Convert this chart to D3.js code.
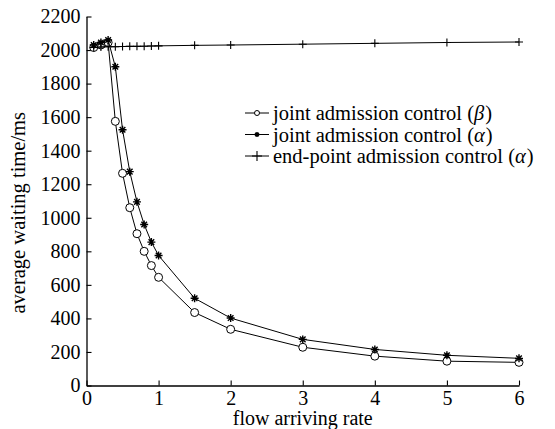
<!DOCTYPE html>
<html>
<head>
<meta charset="utf-8">
<script src="https://cdn.jsdelivr.net/npm/d3@7/dist/d3.min.js"></script>
<style>
  html, body { margin: 0; padding: 0; background: #fff; }
  svg text { font-family: "Liberation Serif", "DejaVu Serif", serif; fill: #000; }
</style>
</head>
<body>
<div id="chart"></div>
<script>
// flow arriving rate
const rates = [0.1, 0.2, 0.3, 0.4, 0.5, 0.6, 0.7, 0.8, 0.9, 1.0, 1.5, 2, 3, 4, 5, 6];

// average waiting time (ms)
const jointBeta  = [2015, 2030, 2045, 1575, 1265, 1060, 905, 800, 715, 645, 435, 335, 228, 175, 145, 138];
const jointAlpha = [2030, 2045, 2060, 1900, 1525, 1275, 1095, 960, 855, 775, 520, 402, 275, 215, 180, 162];
const endPoint   = [2015, 2018, 2020, 2020, 2021, 2022, 2022, 2023, 2024, 2025, 2028, 2030, 2035, 2040, 2045, 2048];

const xTicks = [0, 1, 2, 3, 4, 5, 6];
const yTicks = [0, 200, 400, 600, 800, 1000, 1200, 1400, 1600, 1800, 2000, 2200];

const series = [
  { name: 'joint admission control (', greek: 'β', values: jointBeta, marker: 'circle' },
  { name: 'joint admission control (', greek: 'α', values: jointAlpha, marker: 'star' },
  { name: 'end-point admission control (', greek: 'α', values: endPoint, marker: 'plus' },
];

const width = 555;
const height = 429;
const margin = { top: 16.5, right: 36, bottom: 43.5, left: 86.5 };
const serif = '"Liberation Serif", "DejaVu Serif", serif';

const svg = d3.select('#chart').append('svg')
  .attr('width', width)
  .attr('height', height)
  .attr('font-family', serif);

const x = d3.scaleLinear().domain([0, 6]).range([margin.left, width - margin.right]);
const y = d3.scaleLinear().domain([0, 2200]).range([height - margin.bottom, margin.top]);

// axes, ticks pointing inward
const xAxis = svg.append('g')
  .attr('transform', `translate(0, ${y(0)})`)
  .call(d3.axisBottom(x).tickValues(xTicks).tickFormat(d3.format('d'))
    .tickSizeInner(-5).tickSizeOuter(0).tickPadding(5));
const yAxis = svg.append('g')
  .attr('transform', `translate(${x(0)}, 0)`)
  .call(d3.axisLeft(y).tickValues(yTicks).tickFormat(d3.format('d'))
    .tickSizeInner(-5).tickSizeOuter(0).tickPadding(6));

[xAxis, yAxis].forEach(g => {
  g.attr('font-family', serif).attr('font-size', 20);
  g.select('.domain').attr('stroke', '#000').attr('stroke-width', 1.3);
  g.selectAll('.tick line').attr('stroke', '#000').attr('stroke-width', 1.1);
  g.selectAll('.tick text').attr('fill', '#000');
});
xAxis.selectAll('.tick text').attr('dy', '0.71em');

// axis titles
svg.append('text')
  .attr('x', x(3))
  .attr('y', 425)
  .attr('text-anchor', 'middle')
  .attr('font-size', 20)
  .text('flow arriving rate');

svg.append('text')
  .attr('transform', `translate(25, ${y(1030)}) rotate(-90)`)
  .attr('text-anchor', 'middle')
  .attr('font-size', 20.5)
  .text('average waiting time/ms');

const line = d3.line().x((d, i) => x(rates[i])).y(d => y(d));

function drawMarker(g, type, r) {
  if (type === 'circle') {
    g.append('circle').attr('r', r).attr('fill', '#fff').attr('stroke', '#000').attr('stroke-width', 1);
  } else if (type === 'star') {
    const p = `M${-r},0H${r}M0,${-r}V${r}M${-r * 0.7},${-r * 0.7}L${r * 0.7},${r * 0.7}M${-r * 0.7},${r * 0.7}L${r * 0.7},${-r * 0.7}`;
    g.append('path').attr('d', p).attr('stroke', '#000').attr('stroke-width', 1.4).attr('fill', 'none');
  } else {
    const p = `M${-r},0H${r}M0,${-r}V${r}`;
    g.append('path').attr('d', p).attr('stroke', '#000').attr('stroke-width', 1.1).attr('fill', 'none');
  }
}

series.forEach(s => {
  svg.append('path')
    .datum(s.values)
    .attr('d', line)
    .attr('fill', 'none')
    .attr('stroke', '#000')
    .attr('stroke-width', 1);

  svg.append('g').selectAll('g')
    .data(s.values)
    .join('g')
    .attr('transform', (d, i) => `translate(${x(rates[i])}, ${y(d)})`)
    .each(function () { drawMarker(d3.select(this), s.marker, 4); });
});

// legend: separate text pieces so the greek letter can be italic
const legend = svg.append('g').attr('transform', 'translate(245, 113)');
series.forEach((s, i) => {
  const row = legend.append('g').attr('transform', `translate(0, ${i * 21.5})`);
  row.append('line').attr('x1', 0).attr('x2', 24).attr('y1', 0).attr('y2', 0)
    .attr('stroke', '#000').attr('stroke-width', 1);
  const m = row.append('g').attr('transform', 'translate(12, 0)');
  drawMarker(m, s.marker, s.marker === 'plus' ? 5 : 2.5);

  let cx = 28;
  [[s.name, 'normal'], [s.greek, 'italic'], [')', 'normal']].forEach(([str, st]) => {
    const t = row.append('text')
      .attr('x', cx)
      .attr('y', 7)
      .attr('font-size', 20.5)
      .attr('font-style', st)
      .text(str);
    cx += t.node().getComputedTextLength() + (st === 'italic' ? 1 : 0);
  });
});
</script>
</body>
</html>
